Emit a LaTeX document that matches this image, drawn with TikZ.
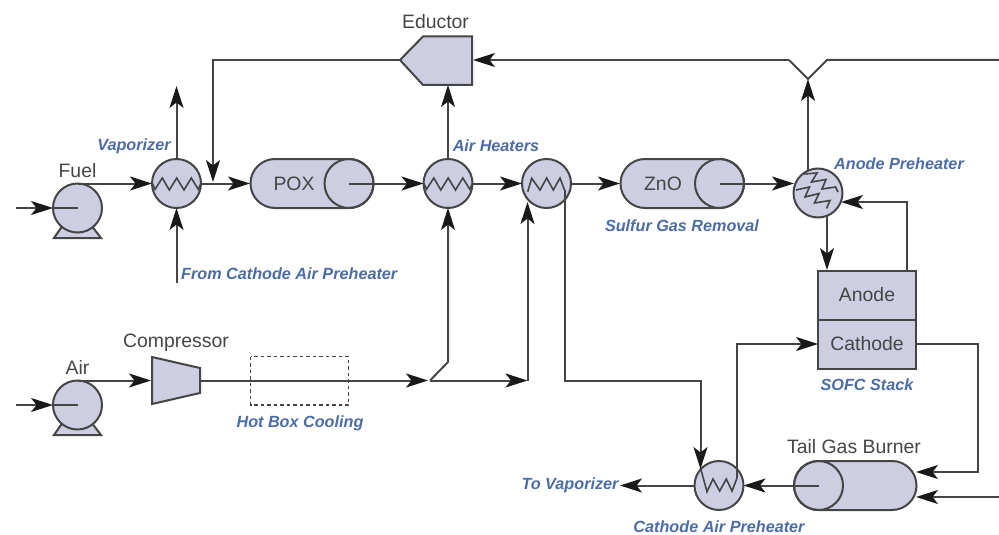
\documentclass[tikz,border=0pt]{standalone}
\usepackage{fontspec}
\setmainfont{Liberation Sans}
\usetikzlibrary{arrows.meta}
\definecolor{fillc}{HTML}{CDCEE2}
\definecolor{linec}{HTML}{454545}
\definecolor{bluec}{HTML}{4C6CA8}
\tikzset{
  x=1pt,y=-1pt,
  pipe/.style={draw=linec,line width=2pt,line join=miter},
  flow/.style={pipe,-{Stealth[length=22pt,width=14pt,inset=5.5pt,color=black!90]}},
  equip/.style={draw=linec,line width=2pt,fill=fillc,line join=miter},
  coil/.style={draw=linec,line width=1.6pt,line join=miter},
  dark/.style={font=\fontsize{19.4}{22}\selectfont,text=linec,inner sep=0pt},
  bluelbl/.style={font=\fontsize{16.2}{19}\selectfont\bfseries\itshape,text=bluec,inner sep=0pt},
  circ/.style={circle,equip,minimum size=49pt,inner sep=0pt,outer sep=0pt},
  stackbox/.style={equip,minimum width=98pt,minimum height=49pt,inner sep=0pt,outer sep=0pt,font=\fontsize{19.4}{22}\selectfont,text=linec}
}
\begin{document}
\begin{tikzpicture}
\useasboundingbox (0,0) rectangle (999,535);
% free ends and junctions
\coordinate (fuelin) at (16,208);
\coordinate (airin) at (16,405);
\coordinate (vapup) at (176.5,86);
\coordinate (vapdown) at (176.5,283);
\coordinate (split) at (430,380.5);
\coordinate (vee) at (808,79);
\coordinate (rightA) at (999,60);
\coordinate (rightB) at (999,497);

% pumps
\draw[equip] (54,238) -- (63,225) -- (91,225) -- (101,238) -- cycle;
\node[circ] (fuel) at (77.5,208) {};
\draw[equip] (54,435) -- (63,422) -- (91,422) -- (101,435) -- cycle;
\node[circ] (air) at (77.5,405) {};

% exchangers
\node[circ] (vap) at (176.5,183.5) {};
\node[circ] (ah1) at (448,183.5) {};
\node[circ] (ah2) at (546.5,183.5) {};
\node[circ] (ap) at (818,193) {};
\node[circ] (cap) at (719,485.5) {};

% vessels
\draw[equip] (275,159) -- (349,159) arc[start angle=-90,end angle=90,radius=24.5] -- (275,208) arc[start angle=90,end angle=270,radius=24.5] -- cycle;
\node[circ,fill=none] (pox) at (349,183.5) {};
\node[dark] (poxt) at (294,184) {POX};
\draw[equip] (645,159) -- (719.5,159) arc[start angle=-90,end angle=90,radius=24.5] -- (645,208) arc[start angle=90,end angle=270,radius=24.5] -- cycle;
\node[circ,fill=none] (zno) at (719.5,183.5) {};
\node[dark] (znot) at (663,184) {ZnO};
\draw[equip] (818.5,461) -- (892,461) arc[start angle=-90,end angle=90,radius=24.5] -- (818.5,510) arc[start angle=90,end angle=270,radius=24.5] -- cycle;
\node[circ,fill=none] (tgb) at (818.5,485.5) {};

% eductor, compressor, stack, hot box
\draw[equip] (400,60) -- (423,36.5) -- (472,36.5) -- (472,85) -- (423,85) -- cycle;
\coordinate (edtip) at (400,60);
\coordinate (edright) at (473,60);
\coordinate (edbot) at (448,85);
\draw[equip] (152,357) -- (200,368) -- (200,393) -- (152,404) -- cycle;
\coordinate (compL) at (151,380.5);
\coordinate (compR) at (200,380.5);
\node[stackbox] (anode) at (867,295) {Anode};
\node[stackbox] (cathode) at (867,344) {Cathode};
\draw[draw=linec,line width=1.6pt,dash pattern=on 3.5pt off 3pt] (250.5,356.5) rectangle (348.5,405);

% coils
\draw[coil] (152.3,183.3) -- (155,189.3) -- (162.3,178) -- (169.3,190) -- (176.7,178) -- (184,190) -- (191.3,178) -- (198.3,189.3) -- (201,183.3);
\draw[coil] (423.8,183.3) -- (426.5,189.3) -- (433.8,178) -- (440.8,190) -- (448.2,178) -- (455.5,190) -- (462.8,178) -- (469.8,189.3) -- (472.5,183.3);
\draw[coil] (527.7,191.7) -- (531.7,178.3) -- (540,190) -- (546.7,178) -- (553.3,190) -- (560,178) -- (564.5,190);
\draw[coil] (700.5,468) -- (707,491.7) -- (713,479) -- (719.7,491) -- (726.3,479) -- (732,491) -- (737,478);
\draw[coil] (804,174) -- (817,173) -- (811.5,182) -- (826,179.5) -- (822,189) -- (835.5,187) -- (838,192);
\draw[coil] (796,190) -- (809.5,187) -- (805,197) -- (819,193.5) -- (814.5,203) -- (830,200.5) -- (826.5,208.5);

% stream lines
\draw[flow] (fuelin) -- (53,208);
\draw[pipe] (53,208) -- (fuel.center);
\draw[flow] (airin) -- (53,405);
\draw[pipe] (53,405) -- (air.center);
\draw[flow] (fuel.north) -- (vap.west);
\draw[flow] (vap.north) -- (vapup);
\draw[flow] (vapdown) -- (vap.south);
\draw[flow] (vap.east) -- (250,183.5);
\draw[flow] (edtip) -- (213,60) -- (213,182);
\draw[flow] (pox.center) -- (ah1.west);
\draw[flow] (ah1.north) -- (edbot);
\draw[flow] (ah1.east) -- (ah2.west);
\draw[flow] (ah2.east) -- (620,183.5);
\draw[flow] (zno.center) -- (794,183.5);
\draw[flow] (808,170) -- (vee);
\draw[pipe] (789,60) -- (vee) -- (827,60) -- (rightA);
\draw[flow] (789,60) -- (edright);
\draw[flow] (air.north) -- (compL);
\draw[flow] (compR) -- (428,380.5);
\draw[flow] (split) -- (448,362) -- (ah1.south);
\draw[flow] (split) -- (527.5,380.5);
\draw[flow] (527.5,380.5) -- (527.5,202);
\draw[flow] (564.5,190) -- (564.5,380.5) -- (700.5,380.5) -- (700.5,469);
\draw[flow] (737,478) -- (737,344) -- (cathode.west);
\draw[flow] (cathode.east) -- (978,344) -- (978,472) -- (916,472);
\draw[flow] (rightB) -- (916,497);
\draw[flow] (tgb.center) -- (cap.east);
\draw[flow] (cap.west) -- (620,485.5);
\draw[flow] (827,215) -- (827,270);
\draw[flow] (907,270) -- (907,202) -- (841,202);

% labels
\node[dark] (t1) at (435.5,22) {Eductor};
\node[dark] (t2) at (77.5,171) {Fuel};
\node[dark] (t3) at (77.5,367) {Air};
\node[dark] (t4) at (176,342.5) {Compressor};
\node[dark] (t5) at (854,447) {Tail Gas Burner};
\node[bluelbl] (b1) at (134,146) {Vaporizer};
\node[bluelbl] (b2) at (496,145.5) {Air Heaters};
\node[bluelbl,anchor=west] (b3) at (181,274) {From Cathode Air Preheater};
\node[bluelbl] (b4) at (682,226) {Sulfur Gas Removal};
\node[bluelbl] (b5) at (899,164) {Anode Preheater};
\node[bluelbl] (b6) at (300,423) {Hot Box Cooling};
\node[bluelbl] (b7) at (867,385) {SOFC Stack};
\node[bluelbl] (b8) at (570,485) {To Vaporizer};
\node[bluelbl] (b9) at (719,527) {Cathode Air Preheater};
\end{tikzpicture}
\end{document}
